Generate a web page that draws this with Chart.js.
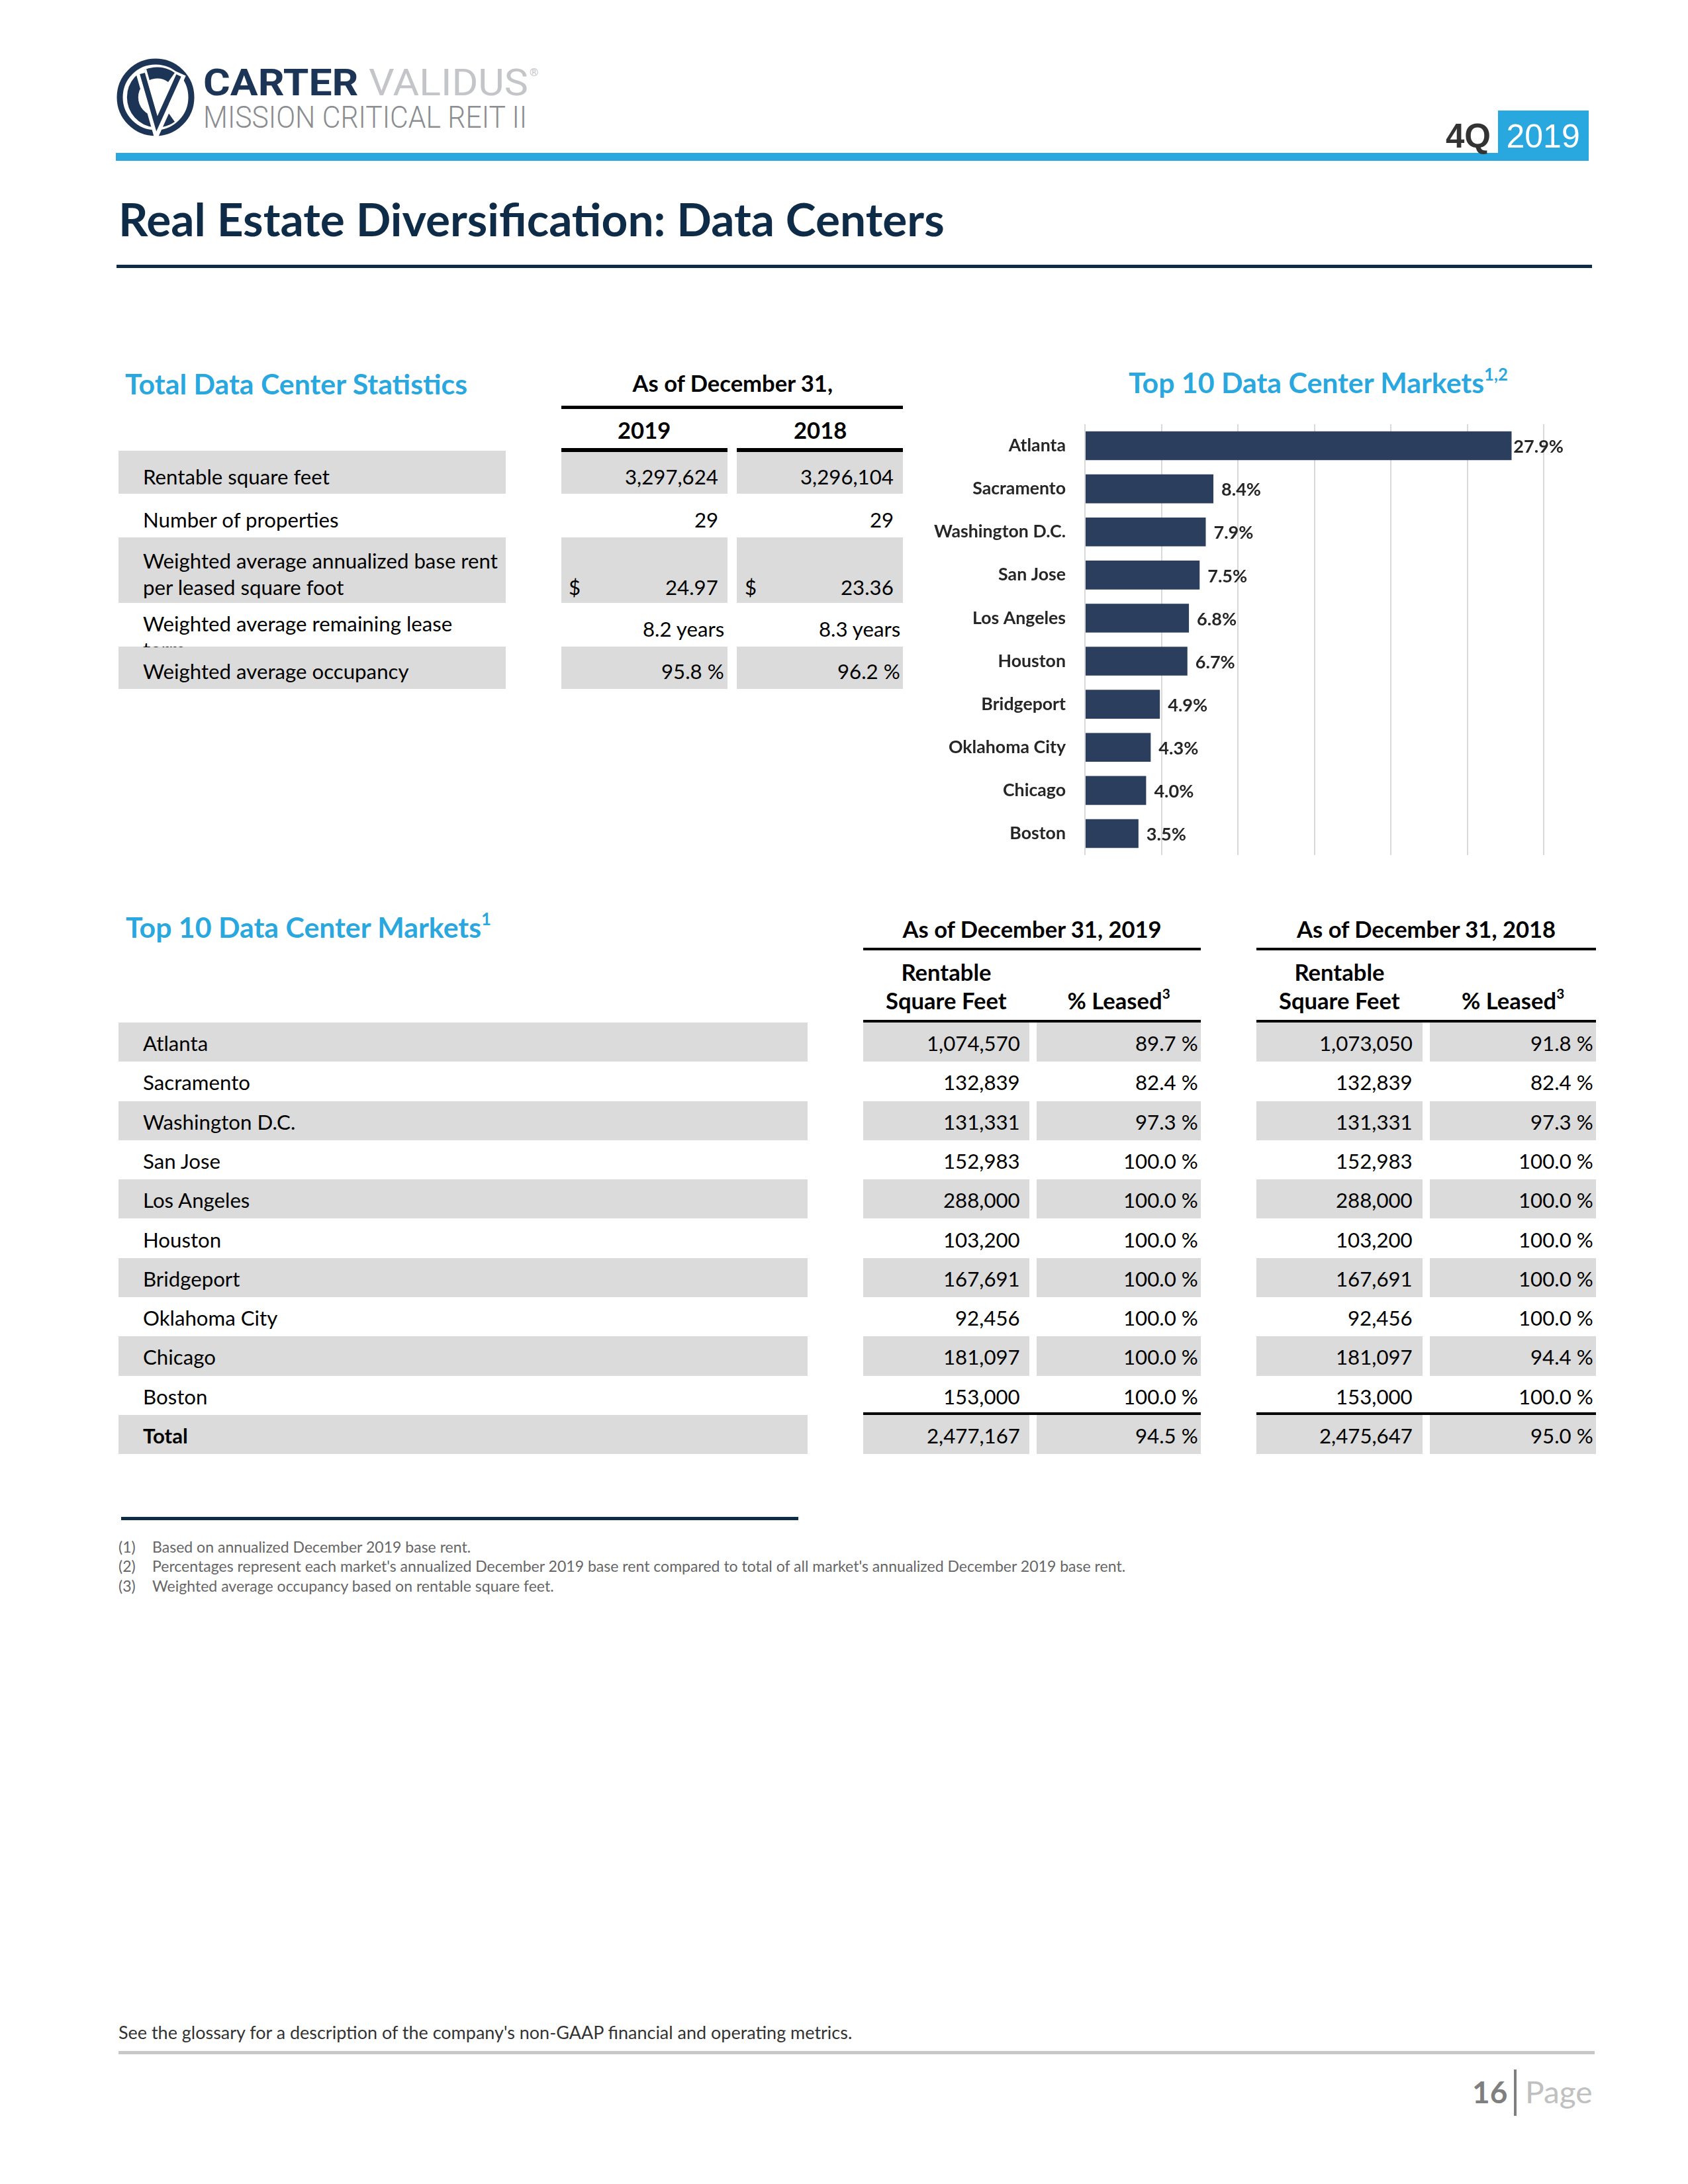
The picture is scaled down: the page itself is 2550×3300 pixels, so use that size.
<!DOCTYPE html>
<html><head><meta charset="utf-8">
<script src="https://cdn.jsdelivr.net/npm/chart.js"></script>
<style>
html,body{margin:0;padding:0;background:#fff;}
#page{position:relative;width:2550px;height:3300px;overflow:hidden;background:#fff;font-family:Lato,'Open Sans',sans-serif;}
.r{position:absolute;}
.t{position:absolute;white-space:nowrap;line-height:normal;}
.bl{display:inline-block;width:0;height:0;vertical-align:baseline;}
</style></head>
<body><div id="page"></div>
<script>
// ---------- DATA ----------
const markets = ['Atlanta','Sacramento','Washington D.C.','San Jose','Los Angeles','Houston','Bridgeport','Oklahoma City','Chicago','Boston'];
const marketShare = [27.9, 8.4, 7.9, 7.5, 6.8, 6.7, 4.9, 4.3, 4.0, 3.5];
const xTicks = [0, 5, 10, 15, 20, 25, 30];

const sqft2019 = [1074570, 132839, 131331, 152983, 288000, 103200, 167691, 92456, 181097, 153000];
const leased2019 = [89.7, 82.4, 97.3, 100.0, 100.0, 100.0, 100.0, 100.0, 100.0, 100.0];
const sqft2018 = [1073050, 132839, 131331, 152983, 288000, 103200, 167691, 92456, 181097, 153000];
const leased2018 = [91.8, 82.4, 97.3, 100.0, 100.0, 100.0, 100.0, 100.0, 94.4, 100.0];
const totalSqft = [2477167, 2475647];
const totalLeased = [94.5, 95.0];

const statLabels = [['Rentable square feet'], ['Number of properties'], ['Weighted average annualized base rent', 'per leased square foot'], ['Weighted average remaining lease', 'term'], ['Weighted average occupancy']];
const stats2019 = [3297624, 29, 24.97, 8.2, 95.8];
const stats2018 = [3296104, 29, 23.36, 8.3, 96.2];

const footnotes = ['Based on annualized December 2019 base rent.',
  "Percentages represent each market's annualized December 2019 base rent compared to total of all market's annualized December 2019 base rent.",
  'Weighted average occupancy based on rentable square feet.'];

// ---------- HELPERS ----------
const BLUE = '#29a7df', NAVY = '#0e2b47', GRAY = '#dbdbdb';
const page = document.getElementById('page');
const mctx = document.createElement('canvas').getContext('2d');
function mw(s, w, size, fam) { mctx.font = `${w} ${size}px ${fam}`; return mctx.measureText(s).width; }
function fitSize(s, w, fam, target) { return 100 * target / mw(s, w, 100, fam); }
function rect(x1, y1, x2, y2, c, parent) {
  const d = document.createElement('div'); d.className = 'r';
  Object.assign(d.style, {left: x1 + 'px', top: y1 + 'px', width: (x2 - x1) + 'px', height: (y2 - y1) + 'px', background: c});
  (parent || page).appendChild(d); return d;
}
function text(s, x, y, o = {}) {
  const fam = o.family || 'Lato', w = o.weight || 400;
  let size = o.size || 30;
  if (o.fit) size = fitSize(s, w, fam, o.fit);
  const d = document.createElement('div'); d.className = 't';
  d.style.font = `${w} ${size}px ${fam}`; d.style.color = o.color || '#111';
  if (o.lh) d.style.lineHeight = o.lh;
  d.appendChild(document.createTextNode(s));
  if (o.sup) {
    const sp = document.createElement('span'); sp.textContent = o.sup;
    sp.style.fontSize = (o.supSize || 0.6) + 'em'; sp.style.position = 'relative';
    sp.style.top = (-(o.supRaise || 0.75)) + 'em'; d.appendChild(sp);
  }
  const b = document.createElement('span'); b.className = 'bl'; d.appendChild(b);
  (o.parent || page).appendChild(d);
  const wd = d.offsetWidth;
  let left = x;
  if (o.align === 'right') left = x - wd; else if (o.align === 'center') left = x - wd / 2;
  if (o.scaleTo) { d.style.transformOrigin = '0 0'; d.style.transform = `scaleX(${o.scaleTo / wd})`; }
  d.style.left = left + 'px'; d.style.top = (y - b.offsetTop) + 'px';
  return d;
}
const fmtInt = v => v.toLocaleString('en-US');
const fmtPct = v => v.toFixed(1) + ' %';

// ---------- SIZES ----------
const bodySize = fitSize('Rentable square feet', 400, 'Lato', 282);
const hdrSize = fitSize('As of December 31,', 700, 'Lato', 304);
const secSize = fitSize('Total Data Center Statistics', 700, 'Lato', 518);
const noteSize = fitSize(footnotes[0], 400, 'Lato', 482);
const catSize = fitSize('Washington D.C.', 700, 'Lato', 199);
const valSize = fitSize('8.4%', 700, 'Lato', 60);

// ---------- HEADER ----------
const logo = document.createElement('div'); logo.className = 'r';
logo.style.left = '175px'; logo.style.top = '87px';
logo.innerHTML = `<svg width="120" height="120" viewBox="0 0 120 120">
<circle cx="60" cy="60" r="54" fill="none" stroke="#1c3556" stroke-width="9"/>
<path d="M 84 30 A 37 37 0 1 0 84 90" fill="none" stroke="#1c3556" stroke-width="17"/>
<path d="M 38 20 L 62 104 L 98 24" fill="none" stroke="#fff" stroke-width="17"/>
<path d="M 40 24 L 62 100 L 95 27" fill="none" stroke="#1c3556" stroke-width="8"/>
</svg>`;
page.appendChild(logo);
text('CARTER', 307, 144, {family: 'Roboto', weight: 700, size: 56, color: '#1c3556', scaleTo: 235, lh: 0.75});
text('VALIDUS', 557, 144, {family: 'Roboto', weight: 400, size: 56, color: '#c3c5c8', scaleTo: 241, lh: 0.75});
text('®', 800, 115, {family: 'Roboto', size: 17, color: '#c3c5c8', lh: 0.75});
text('MISSION CRITICAL REIT II', 307, 193, {family: 'Roboto', weight: 300, size: 47, color: '#8b8d90', scaleTo: 489, lh: 0.75});
rect(175, 231, 2400, 243, BLUE);
rect(2263, 167, 2400, 243, BLUE);
text('4Q', 2252, 223, {family: 'Liberation Sans', weight: 700, size: 51, color: '#333', align: 'right', lh: 0.8});
text('2019', 2331, 223, {family: 'Liberation Sans', weight: 400, size: 50, color: '#fff', align: 'center', lh: 0.8});

text('Real Estate Diversification: Data Centers', 179, 357, {weight: 700, fit: 1248, color: NAVY});
rect(176, 400, 2405, 405, NAVY);

// ---------- STATS TABLE ----------
text('Total Data Center Statistics', 189, 596, {weight: 700, size: secSize, color: BLUE});
text('As of December 31,', 1107, 592, {weight: 700, size: hdrSize, color: '#000', align: 'center'});
rect(848, 613, 1364, 618, '#000');
text('2019', 973, 663, {weight: 700, size: hdrSize, color: '#000', align: 'center'});
text('2018', 1239, 663, {weight: 700, size: hdrSize, color: '#000', align: 'center'});
const statBands = [[681, 746], null, [812, 911], null, [977, 1041]];
statBands.forEach(b => { if (b) { rect(179, b[0], 764, b[1], GRAY); rect(848, b[0], 1099, b[1], GRAY); rect(1113, b[0], 1364, b[1], GRAY); } });
rect(848, 677, 1099, 683, '#000'); rect(1113, 677, 1364, 683, '#000');
const statBase = [[732], [797], [859, 899], [954], [1026]];
statLabels.forEach((lines, i) => {
  if (i === 3) {
    text(lines[0], 216, statBase[i][0], {size: bodySize, color: '#000'});
    const clip = document.createElement('div'); clip.className = 'r';
    Object.assign(clip.style, {left: '0px', top: '940px', width: '800px', height: '38px', overflow: 'hidden'});
    page.appendChild(clip);
    text(lines[1], 216, 53, {size: bodySize, color: '#000', parent: clip});
  } else {
    lines.forEach((l, j) => text(l, 216, statBase[i][j], {size: bodySize, color: '#000'}));
  }
});
const statFmt = [fmtInt, v => String(v), v => v.toFixed(2), v => v.toFixed(1) + ' years', fmtPct];
const statValBase = [732, 797, 899, 962, 1026];
const statRight = [[1085, 1350], [1085, 1350], [1085, 1350], [1094, 1360], [1094, 1360]];
[stats2019, stats2018].forEach((arr, c) => {
  arr.forEach((v, i) => text(statFmt[i](v), statRight[i][c], statValBase[i], {size: bodySize, color: '#000', align: 'right'}));
});
text('$', 859, 899, {size: bodySize, color: '#000'});
text('$', 1125, 899, {size: bodySize, color: '#000'});

// ---------- CHART ----------
text('Top 10 Data Center Markets', 1705, 594, {weight: 700, size: secSize, color: BLUE, sup: '1,2'});
const cv = document.createElement('canvas');
cv.width = 1060; cv.height = 690;
Object.assign(cv.style, {position: 'absolute', left: '1380px', top: '620px', width: '1060px', height: '690px'});
page.appendChild(cv);

const valueLabels = {
  id: 'valueLabels',
  afterDatasetsDraw(chart) {
    const {ctx, chartArea} = chart;
    const meta = chart.getDatasetMeta(0);
    ctx.save();
    ctx.font = `700 ${valSize}px Lato`;
    ctx.fillStyle = '#262626'; ctx.textBaseline = 'middle'; ctx.textAlign = 'left';
    meta.data.forEach((bar, i) => {
      const s = chart.data.datasets[0].data[i].toFixed(1) + '%';
      const w = ctx.measureText(s).width;
      const x = Math.min(bar.x + 12, chartArea.right + 30 - w);
      ctx.fillText(s, x, bar.y + 2);
    });
    ctx.restore();
  }
};

new Chart(cv.getContext('2d'), {
  type: 'bar',
  data: {labels: markets, datasets: [{data: marketShare, backgroundColor: '#2b3e5d', barPercentage: 0.67, categoryPercentage: 1}]},
  options: {
    indexAxis: 'y', responsive: false, animation: false, devicePixelRatio: 1,
    layout: {padding: {top: 21, bottom: 18, right: 108, left: 0}},
    plugins: {legend: {display: false}, tooltip: {enabled: false}},
    scales: {
      x: {min: xTicks[0], max: xTicks[xTicks.length - 1],
          afterBuildTicks: s => { s.ticks = xTicks.map(v => ({value: v})); },
          ticks: {display: false}, grid: {color: '#d9d9d9', lineWidth: 2, drawTicks: false},
          border: {display: false},
          afterFit: s => { s.height = 0; s.paddingLeft = 0; s.paddingRight = 0; }},
      y: {ticks: {font: {family: 'Lato', weight: 'bold', size: catSize}, color: '#262626', padding: 29},
          grid: {display: false, drawTicks: false}, border: {display: false},
          afterFit: s => { s.width = 259; s.paddingTop = 0; s.paddingBottom = 0; }}
    }
  },
  plugins: [valueLabels]
});

// ---------- MARKETS TABLE ----------
text('Top 10 Data Center Markets', 190, 1417, {weight: 700, size: secSize, color: BLUE, sup: '1'});
const groups = [[1304, 1555, 1566, 1814], [1898, 2149, 2160, 2411]];
const yearsHdr = ['As of December 31, 2019', 'As of December 31, 2018'];
groups.forEach((g, k) => {
  text(yearsHdr[k], (g[0] + g[3]) / 2, 1417, {weight: 700, size: hdrSize, color: '#000', align: 'center'});
  rect(g[0], 1432, g[3], 1436, '#000');
  text('Rentable', (g[0] + g[1]) / 2, 1482, {weight: 700, size: hdrSize, color: '#000', align: 'center'});
  text('Square Feet', (g[0] + g[1]) / 2, 1525, {weight: 700, size: hdrSize, color: '#000', align: 'center'});
  text('% Leased', (g[2] + g[3]) / 2, 1525, {weight: 700, size: hdrSize, color: '#000', align: 'center', sup: '3'});
  rect(g[0], 1541, g[3], 1545, '#000');
});
const pitch = 59.3;
for (let i = 0; i <= 10; i++) {
  const top = 1545 + pitch * i, bot = top + pitch, base = top + 43;
  if (i % 2 === 0) {
    rect(179, top, 1220, bot, GRAY);
    groups.forEach(g => { rect(g[0], top, g[1], bot, GRAY); rect(g[2], top, g[3], bot, GRAY); });
  }
  const isTot = i === 10;
  const wt = isTot ? 700 : 400;
  text(isTot ? 'Total' : markets[i], 216, base, {weight: wt, size: bodySize, color: '#000'});
  const vals = isTot ? [fmtInt(totalSqft[0]), fmtPct(totalLeased[0]), fmtInt(totalSqft[1]), fmtPct(totalLeased[1])]
                     : [fmtInt(sqft2019[i]), fmtPct(leased2019[i]), fmtInt(sqft2018[i]), fmtPct(leased2018[i])];
  const rights = [1541, 1810, 2134, 2407];
  vals.forEach((v, j) => text(v, rights[j], base, {weight: 400, size: bodySize, color: '#000', align: 'right'}));
}
groups.forEach(g => rect(g[0], 2134, g[3], 2138, '#000'));

// ---------- FOOTNOTES ----------
rect(183, 2292, 1206, 2297, NAVY);
const noteBase = [2346, 2375, 2405];
footnotes.forEach((f, i) => {
  text('(' + (i + 1) + ')', 179, noteBase[i], {size: noteSize, color: '#666', lh: 1.1});
  text(f, 230, noteBase[i], {size: noteSize, color: '#666', lh: 1.1});
});

// ---------- FOOTER ----------
text("See the glossary for a description of the company's non-GAAP financial and operating metrics.", 179, 3081, {fit: 1111, color: '#333'});
rect(179, 3099, 2409, 3104, '#c8c8c8');
text('16', 2277, 3178, {weight: 700, size: 46, color: '#7f7f7f', align: 'right'});
rect(2287, 3127, 2291, 3197, '#7f7f7f');
text('Page', 2304, 3178, {weight: 400, size: 46, color: '#c0c0c0', scaleTo: 102});
</script>
</body></html>
